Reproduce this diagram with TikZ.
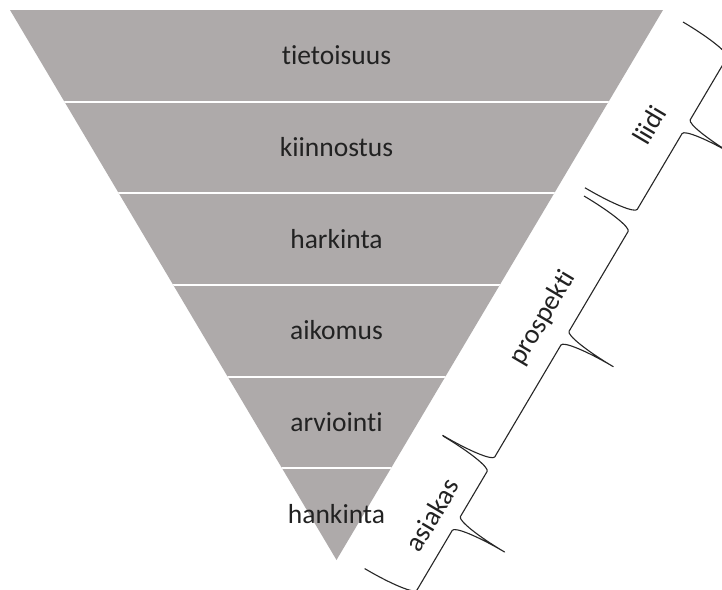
\documentclass[tikz,border=0pt]{standalone}
\usepackage{fontspec}
\setmainfont{Carlito}[Ligatures={NoCommon,NoRare,NoContextual}]
\definecolor{funnelgray}{HTML}{AEAAAA}
\definecolor{inktext}{HTML}{222222}
\begin{document}
\begin{tikzpicture}[x=1pt,y=-1pt,
  stagelabel/.style={text=inktext, font=\fontsize{27.5}{33}\selectfont, anchor=base, inner sep=0pt},
  bracelabel/.style={text=inktext, font=\fontsize{27.5}{33}\selectfont, rotate=59.4, inner sep=0pt},
  bracestroke/.style={draw=black!85, line width=1.1pt, line join=round},
  divider/.style={draw=white, line width=2pt},
  % curly brace: #1 = length along its edge, #2 = position of the spike
  pics/fbrace/.style n args={2}{code={
    \draw[bracestroke] (0,0) .. controls (30.9,0) and (56,3.6) .. (56,8)
      -- (56,{#2-8}) .. controls (56,{#2-3.6}) and (81.1,#2) .. (112,#2)
      .. controls (81.1,#2) and (56,{#2+3.6}) .. (56,{#2+8})
      -- (56,{#1-8}) .. controls (56,{#1-3.6}) and (30.9,#1) .. (0,#1);
  }}
]
\useasboundingbox (0,0) rectangle (722,589);
\fill[white] (0,0) rectangle (722,589);
\clip (0,0) rectangle (722,589);

% funnel
\coordinate (tl) at (10,10);
\coordinate (tr) at (663,10);
\coordinate (apex) at (336.5,560);
\fill[funnelgray] (tl) -- (tr) -- (apex) -- cycle;
\begin{scope}
  \clip (tl) -- (tr) -- (apex) -- cycle;
  \foreach \yy in {101.67,193.33,285,376.67,468.33}
    \draw[divider] (0,\yy) -- (722,\yy);
\end{scope}

% stage names
\node[stagelabel] (s1) at (336.5,64.8)  {tietoisuus};
\node[stagelabel] (s2) at (336.5,156.5) {kiinnostus};
\node[stagelabel] (s3) at (336.5,248.2) {harkinta};
\node[stagelabel] (s4) at (336.5,339.8) {aikomus};
\node[stagelabel] (s5) at (336.5,431.5) {arviointi};
\node[stagelabel] (s6) at (336.5,523.2) {hankinta};

% braces along the right edge
\coordinate (liidiA) at (683,22);
\coordinate (prospektiA) at (584,196);
\coordinate (asiakasA) at (443,436);
\pic[rotate=-30.6] at (liidiA) {fbrace={192.6}{88.5}};
\pic[rotate=-30.6] at (prospektiA) {fbrace={278}{132}};
\pic[rotate=-30.6] at (asiakasA) {fbrace={154}{68.5}};

\node[bracelabel] (liidi) at (649,125) {liidi};
\node[bracelabel] (prospekti) at (543,318) {prospekti};
\node[bracelabel] (asiakas) at (432,515) {asiakas};
\end{tikzpicture}
\end{document}
